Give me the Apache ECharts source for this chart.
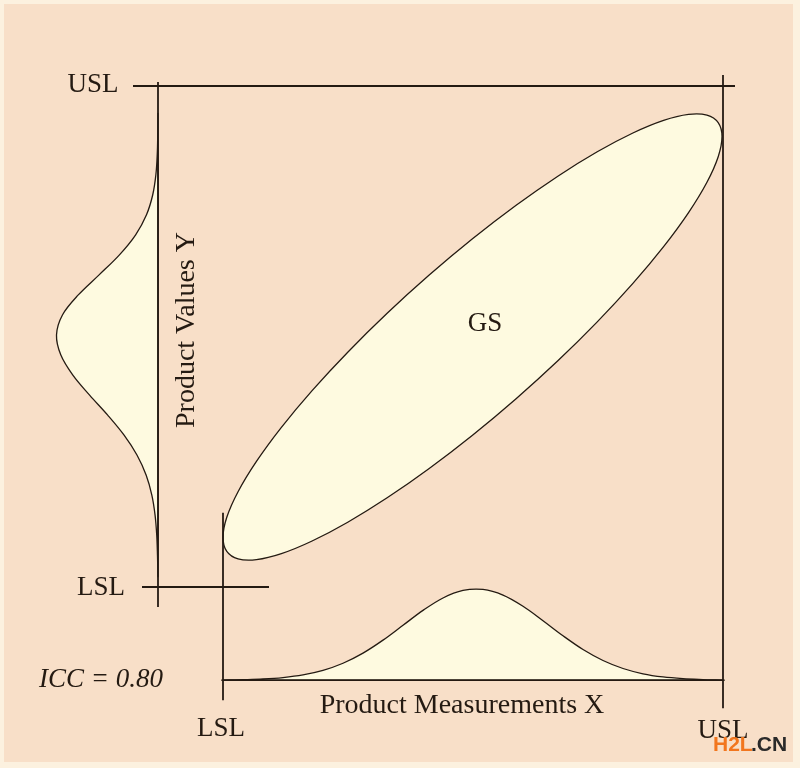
<!DOCTYPE html>
<html>
<head>
<meta charset="utf-8">
<script src="https://cdn.jsdelivr.net/npm/echarts@6/dist/echarts.min.js"></script>
<style>html,body{margin:0;padding:0;background:#fcf1df;}#chart{width:800px;height:768px;}</style>
</head>
<body>
<div id="chart"></div>
<script>
// Specification limits (data units: LSL = 0, USL = 100 on both axes)
var specSegments = [
  [-18, 100, 102.4, 100],    // USL on Y
  [-13, 100.8, -13, -4],     // Y axis line
  [-16.2, 0, 9.2, 0],        // LSL on Y
  [0, 14.8, 0, -22.6],       // LSL on X
  [0, -18.6, 100, -18.6],    // X axis line
  [100, 102.2, 100, -24.2]   // USL on X
];

// Gauge study (GS) ellipse outline
var gsEllipseX = [99.8, 99.04, 96.79, 93.11, 88.12, 81.98, 74.85, 66.97, 58.56, 49.9, 41.24, 32.83, 24.95, 17.82, 11.68, 6.69, 3.01, 0.76,
                  0, 0.76, 3.01, 6.69, 11.68, 17.82, 24.95, 32.83, 41.24, 49.9, 58.56, 66.97, 74.85, 81.98, 88.12, 93.11, 96.79, 99.04];
var gsEllipseY = [89.9, 92.69, 94.19, 94.34, 93.14, 90.62, 86.87, 82.0, 76.14, 69.5, 62.26, 54.64, 46.87, 39.2, 31.86, 25.06, 19.01, 13.91,
                  9.9, 7.11, 5.61, 5.46, 6.66, 9.18, 12.93, 17.8, 23.66, 30.3, 37.54, 45.16, 52.93, 60.6, 67.94, 74.74, 80.79, 85.89];

// Distribution of product values Y (drawn leftwards from the Y axis line)
var yDistY = [2.3, 6.3, 10.3, 14.3, 18.3, 22.3, 26.3, 30.3, 34.3, 38.3, 42.3, 46.3, 50.3, 54.3, 58.3, 62.3, 66.3, 70.3, 74.3, 78.3, 82.3, 86.3, 90.3, 94.3];
var yDistX = [-13, -13.1, -13.25, -13.58, -14.22, -15.36, -17.18, -19.78, -23.06, -26.68, -30.03, -32.43, -33.3, -32.11, -28.94, -24.78, -20.71, -17.47, -15.3, -14.05, -13.42, -13.15, -13.05, -13];

// Distribution of product measurements X (drawn upwards from the X axis line)
var xDistX = [0, 4, 8, 12, 16, 20, 24, 28, 32, 36, 40, 44, 48, 52, 56, 60, 64, 68, 72, 76, 80, 84, 88, 92, 96, 100];
var xDistY = [-18.6, -18.5, -18.36, -18.07, -17.54, -16.64, -15.22, -13.2, -10.61, -7.64, -4.67, -2.19, -0.69, -0.49, -1.62, -3.85, -6.73, -9.74, -12.48, -14.67, -16.27, -17.32, -17.95, -18.29, -18.47, -18.6];

var labels = {
  uslY: 'USL', lslY: 'LSL', lslX: 'LSL', uslX: 'USL',
  icc: 'ICC = 0.80', xTitle: 'Product Measurements X', yTitle: 'Product Values Y', gs: 'GS'
};

function zip(a, b) { var out = []; for (var i = 0; i < a.length; i++) out.push([a[i], b[i]]); return out; }

var INK = '#241a12';
var CREAM = '#fefae0';
var SERIF = '"Liberation Serif", "DejaVu Serif", serif';

function shapeSeries(points, z, smooth) {
  return {
    type: 'custom',
    coordinateSystem: 'cartesian2d',
    silent: true,
    z: z,
    data: [[points[0][0], points[0][1]]],
    renderItem: function (params, api) {
      var pts = points.map(function (p) { return api.coord(p); });
      return {
        type: 'polygon',
        shape: { points: pts, smooth: smooth },
        style: { fill: CREAM, stroke: INK, lineWidth: 1.3 }
      };
    }
  };
}

function txt(x, y, text, font, extra) {
  var o = { type: 'text', z: 10, silent: true, x: x, y: y,
    style: { text: text, font: font, fill: INK, align: 'center', verticalAlign: 'middle' } };
  if (extra) for (var k in extra) o[k] = extra[k];
  return o;
}

var chart = echarts.init(document.getElementById('chart'), null, { renderer: 'canvas' });

var option = {
  animation: false,
  backgroundColor: '#fcf1df',
  grid: { left: 0, right: 0, top: 0, bottom: 0 },
  xAxis: { type: 'value', min: -44.6, max: 115.4, show: false },
  yAxis: { type: 'value', min: -36.13, max: 117.17, show: false },
  graphic: [
    { type: 'rect', z: -10, silent: true, shape: { x: 4, y: 4, width: 789, height: 758 }, style: { fill: '#f8dfc8' } },
    txt(93, 85, labels.uslY, '27px ' + SERIF),
    txt(101, 588, labels.lslY, '27px ' + SERIF),
    txt(221, 729, labels.lslX, '27px ' + SERIF),
    txt(723, 731, labels.uslX, '27px ' + SERIF),
    txt(101, 680, labels.icc, 'italic 27px ' + SERIF),
    txt(462, 706, labels.xTitle, '28px ' + SERIF),
    txt(187, 330, labels.yTitle, '28px ' + SERIF, { rotation: Math.PI / 2 }),
    txt(485, 324, labels.gs, '27px ' + SERIF),
    { type: 'text', z: 20, silent: true, x: 713, y: 745, style: { text: 'H2L', font: 'bold 21px "Liberation Sans", Arial, sans-serif', fill: '#f2761e', align: 'left', verticalAlign: 'middle' } },
    { type: 'text', z: 20, silent: true, x: 751, y: 745, style: { text: '.CN', font: 'bold 21px "Liberation Sans", Arial, sans-serif', fill: '#2a2a2a', align: 'left', verticalAlign: 'middle' } }
  ],
  series: [
    shapeSeries(zip(gsEllipseX, gsEllipseY), 2, 0.33),
    shapeSeries(zip(yDistX, yDistY), 2, 0.35),
    shapeSeries(zip(xDistX, xDistY), 2, 0.35),
    {
      type: 'custom',
      coordinateSystem: 'cartesian2d',
      silent: true,
      z: 5,
      data: specSegments,
      renderItem: function (params, api) {
        var p1 = api.coord([api.value(0), api.value(1)]);
        var p2 = api.coord([api.value(2), api.value(3)]);
        return {
          type: 'line',
          shape: { x1: p1[0], y1: p1[1], x2: p2[0], y2: p2[1] },
          style: { stroke: INK, lineWidth: 1.8 }
        };
      },
      encode: { x: [0, 2], y: [1, 3] }
    }
  ]
};
chart.setOption(option);
</script>
</body>
</html>
